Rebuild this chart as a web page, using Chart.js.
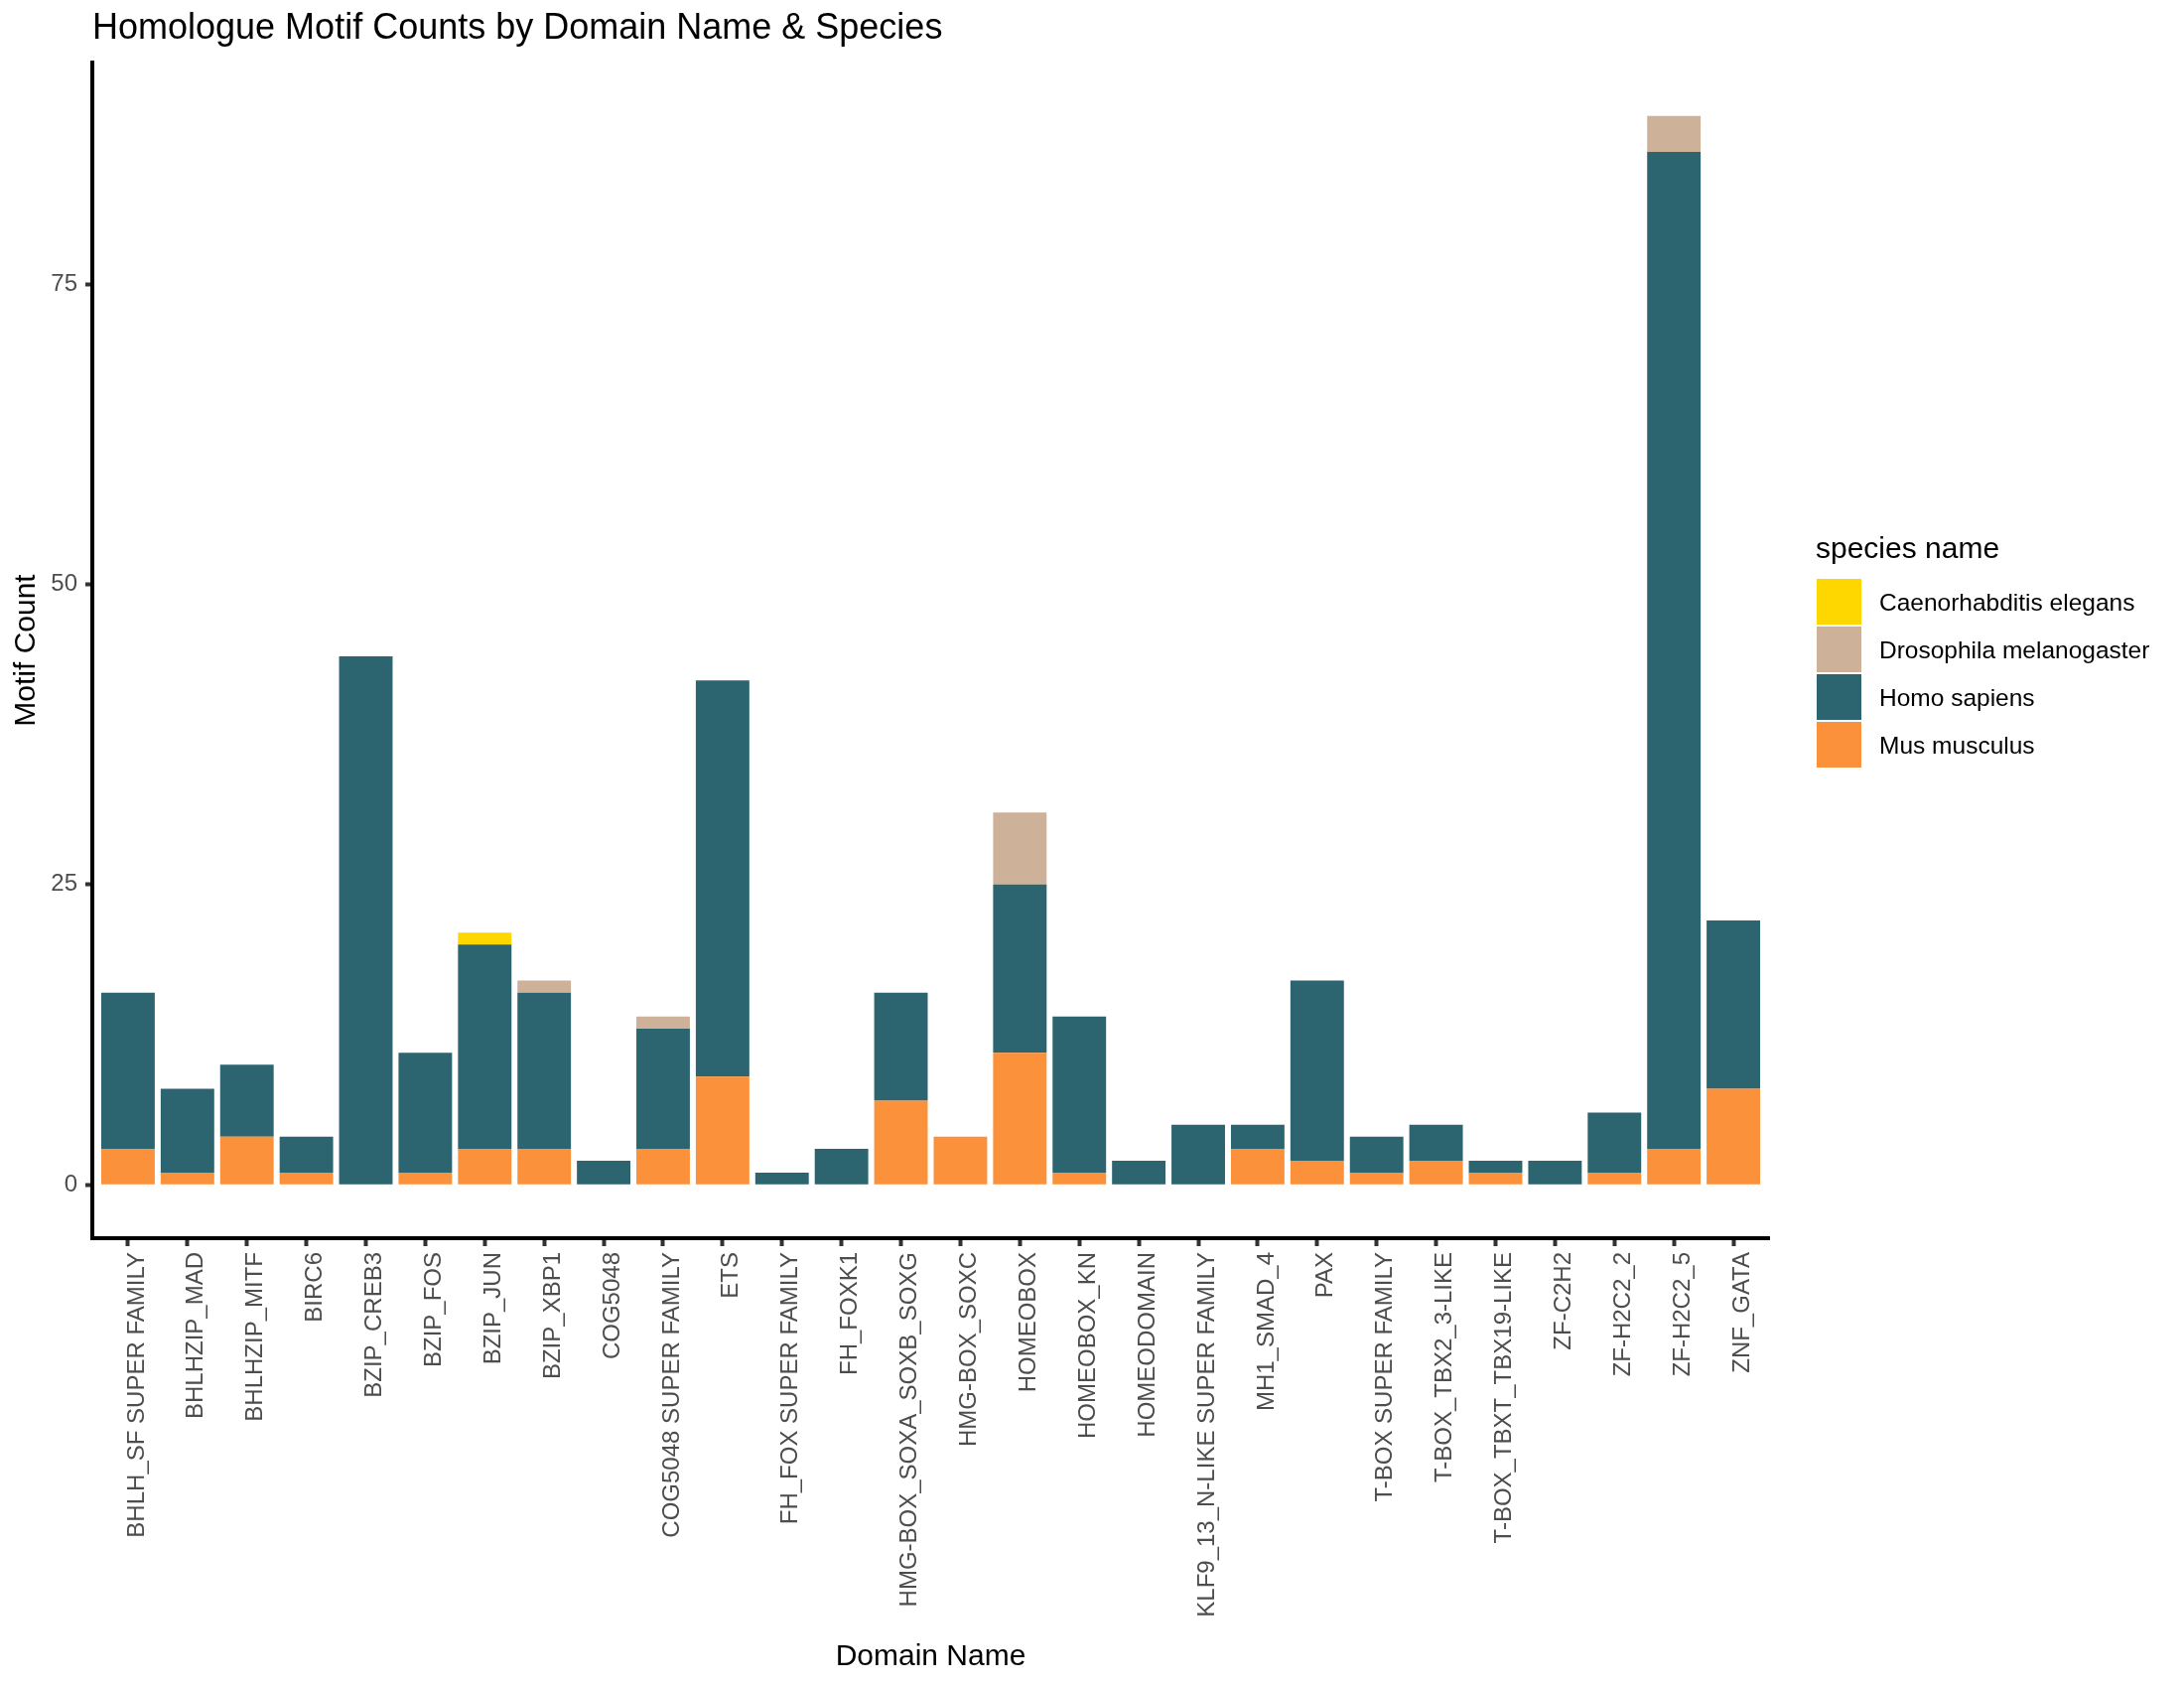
<!DOCTYPE html>
<html>
<head>
<meta charset="utf-8">
<script src="https://cdn.jsdelivr.net/npm/chart.js@4.4.1/dist/chart.umd.min.js"></script>
<style>
  html, body { margin: 0; padding: 0; background: #ffffff; }
  #wrap { width: 2200px; height: 1700px; }
</style>
</head>
<body>
<div id="wrap"><canvas id="c" width="2200" height="1700"></canvas></div>
<script>
const categories = [
  "BHLH_SF SUPER FAMILY", "BHLHZIP_MAD", "BHLHZIP_MITF", "BIRC6", "BZIP_CREB3",
  "BZIP_FOS", "BZIP_JUN", "BZIP_XBP1", "COG5048", "COG5048 SUPER FAMILY",
  "ETS", "FH_FOX SUPER FAMILY", "FH_FOXK1", "HMG-BOX_SOXA_SOXB_SOXG", "HMG-BOX_SOXC",
  "HOMEOBOX", "HOMEOBOX_KN", "HOMEODOMAIN", "KLF9_13_N-LIKE SUPER FAMILY", "MH1_SMAD_4",
  "PAX", "T-BOX SUPER FAMILY", "T-BOX_TBX2_3-LIKE", "T-BOX_TBXT_TBX19-LIKE", "ZF-C2H2",
  "ZF-H2C2_2", "ZF-H2C2_5", "ZNF_GATA"
];
const musMusculus      = [3, 1, 4, 1, 0, 1, 3, 3, 0, 3, 9, 0, 0, 7, 4, 11, 1, 0, 0, 3, 2, 1, 2, 1, 0, 1, 3, 8];
const homoSapiens      = [13, 7, 6, 3, 44, 10, 17, 13, 2, 10, 33, 1, 3, 9, 0, 14, 13, 2, 5, 2, 15, 3, 3, 1, 2, 5, 83, 14];
const drosophila       = [0, 0, 0, 0, 0, 0, 0, 1, 0, 1, 0, 0, 0, 0, 0, 6, 0, 0, 0, 0, 0, 0, 0, 0, 0, 0, 3, 0];
const caenorhabditis   = [0, 0, 0, 0, 0, 0, 1, 0, 0, 0, 0, 0, 0, 0, 0, 0, 0, 0, 0, 0, 0, 0, 0, 0, 0, 0, 0, 0];
const speciesNames = ["Mus musculus", "Homo sapiens", "Drosophila melanogaster", "Caenorhabditis elegans"];
const speciesColors = ["#FB913B", "#2C6570", "#CDB299", "#FFD700"];
const yTicks = [0, 25, 50, 75];
const yRange = [-4.45, 93.45];
const xRange = [-0.6, 27.6];

const FONT = "'Liberation Sans', Arial, Helvetica, sans-serif";
const toPoints = arr => arr.map((v, i) => ({ x: i, y: v }));
const seriesValues = [musMusculus, homoSapiens, drosophila, caenorhabditis];

const datasets = seriesValues.map((vals, k) => ({
  label: speciesNames[k],
  data: toPoints(vals),
  backgroundColor: speciesColors[k],
  borderWidth: 0,
  categoryPercentage: 0.9,
  barPercentage: 1.0
}));

const legendPlugin = {
  id: 'ggLegend',
  afterDraw(chart) {
    const ctx = chart.ctx;
    ctx.save();
    ctx.fillStyle = '#000000';
    ctx.textAlign = 'left';
    ctx.textBaseline = 'alphabetic';
    ctx.font = `30px ${FONT}`;
    ctx.fillText('species name', 1829, 562);
    const items = chart.data.datasets.slice().reverse();
    ctx.font = `24.5px ${FONT}`;
    items.forEach((ds, i) => {
      const y = 583 + i * 48;
      ctx.fillStyle = ds.backgroundColor;
      ctx.fillRect(1830, y, 45, 46);
      ctx.fillStyle = '#000000';
      ctx.fillText(ds.label, 1893, y + 23 + 8.6);
    });
    ctx.restore();
  }
};

new Chart(document.getElementById('c'), {
  type: 'bar',
  data: { datasets },
  options: {
    responsive: false,
    animation: false,
    devicePixelRatio: 1,
    layout: { padding: { left: 0, right: 418, top: 0, bottom: 0 } },
    plugins: {
      legend: { display: false },
      tooltip: { enabled: false },
      title: {
        display: true,
        text: 'Homologue Motif Counts by Domain Name & Species',
        align: 'start',
        fullSize: false,
        color: '#000000',
        font: { family: FONT, size: 36, weight: 'normal', lineHeight: 1.2 },
        padding: { top: 7, bottom: 12.8 }
      }
    },
    scales: {
      x: {
        type: 'linear',
        stacked: true,
        offset: false,
        min: xRange[0],
        max: xRange[1],
        afterBuildTicks: (scale) => { scale.ticks = categories.map((_, i) => ({ value: i })); },
        afterFit: (scale) => { scale.height = 453; },
        grid: { display: true, offset: false, drawOnChartArea: false, drawTicks: true, tickLength: 8, tickWidth: 4, tickColor: '#333333' },
        border: { display: true, color: '#000000', width: 4 },
        ticks: {
          autoSkip: false,
          minRotation: 90,
          maxRotation: 90,
          padding: 6,
          labelOffset: 9,
          color: '#4D4D4D',
          font: { family: FONT, size: 24 },
          callback: (v) => categories[v]
        },
        title: {
          display: true,
          text: 'Domain Name',
          color: '#000000',
          font: { family: FONT, size: 30 },
          padding: { top: 0, bottom: 13 }
        }
      },
      y: {
        type: 'linear',
        stacked: true,
        min: yRange[0],
        max: yRange[1],
        afterBuildTicks: (scale) => { scale.ticks = yTicks.map(v => ({ value: v })); },
        afterFit: (scale) => { scale.width = 93; },
        grid: { display: true, drawOnChartArea: false, drawTicks: true, tickLength: 7, tickWidth: 4, tickColor: '#333333' },
        border: { display: true, color: '#000000', width: 4 },
        ticks: {
          padding: 8,
          color: '#4D4D4D',
          font: { family: FONT, size: 24 }
        },
        title: {
          display: true,
          text: 'Motif Count',
          color: '#000000',
          font: { family: FONT, size: 30 },
          padding: { top: 9, bottom: 0 }
        }
      }
    }
  },
  plugins: [legendPlugin]
});
</script>
</body>
</html>
